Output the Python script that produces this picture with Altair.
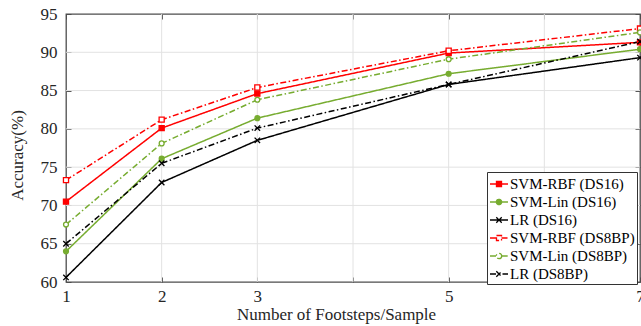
import altair as alt
import pandas as pd

# ---- data ----
steps = [1, 2, 3, 5, 7]
svm_rbf_ds16 = [70.5, 80.1, 84.6, 89.9, 91.3]
svm_lin_ds16 = [64.0, 76.1, 81.4, 87.2, 90.4]
lr_ds16 = [60.6, 73.0, 78.5, 85.8, 89.3]
svm_rbf_ds8bp = [73.3, 81.2, 85.4, 90.2, 93.1]
svm_lin_ds8bp = [67.5, 78.1, 83.8, 89.1, 92.6]
lr_ds8bp = [65.0, 75.5, 80.1, 85.8, 91.4]

series_names = ["SVM-RBF (DS16)", "SVM-Lin (DS16)", "LR (DS16)",
                "SVM-RBF (DS8BP)", "SVM-Lin (DS8BP)", "LR (DS8BP)"]
series_values = [svm_rbf_ds16, svm_lin_ds16, lr_ds16,
                 svm_rbf_ds8bp, svm_lin_ds8bp, lr_ds8bp]
series_markers = ["square", "circle", "x", "square", "circle", "x"]

x_ticks = [1, 2, 3, 4, 5, 6, 7]
y_ticks = [60, 65, 70, 75, 80, 85, 90, 95]

# ---- styles ----
RED, GREEN, BLACK = "#ff0000", "#77ac30", "#000000"
strokes = [RED, GREEN, BLACK, RED, GREEN, BLACK]
fills = [RED, GREEN, BLACK, "#ffffff", "#ffffff", "#ffffff"]
DASHDOT = [6, 2.5, 1.5, 2.5]
dashes = [[1, 0], [1, 0], [1, 0], DASHDOT, DASHDOT, DASHDOT]
X_PATH = "M-1,-1L1,1M-1,1L1,-1"
legend_paths = {
    "square": "M-1,0L-0.28,0M0.28,0L1,0M-0.28,-0.28L0.28,-0.28L0.28,0.28L-0.28,0.28Z",
    "circle": "M-1,0L-0.3,0M0.3,0L1,0M0.3,0A0.3,0.3 0 1,1 -0.3,0A0.3,0.3 0 1,1 0.3,0Z",
    "x": "M-1,0L1,0M-0.3,-0.3L0.3,0.3M-0.3,0.3L0.3,-0.3",
}
FONT = "Liberation Serif"
TXT = "#262626"
AX = "#4d4d4d"
GRID = "#e2e2e2"

rows = []
for name, vals, mk in zip(series_names, series_values, series_markers):
    for s, v in zip(steps, vals):
        rows.append({"steps": s, "acc": v, "series": name, "marker": mk})
df = pd.DataFrame(rows)

xs = alt.Scale(domain=[1, 7], nice=False, zero=False)
ys = alt.Scale(domain=[60, 95], nice=False, zero=False)
stroke_scale = alt.Scale(domain=series_names, range=strokes)
fill_scale = alt.Scale(domain=series_names, range=fills)
dash_scale = alt.Scale(domain=series_names, range=dashes)
shape_scale = alt.Scale(domain=series_names,
                        range=[legend_paths[m] for m in series_markers])

leg = alt.Legend(title=None, orient="none", legendX=421, legendY=158,
                 labelFont=FONT, labelFontSize=15, labelColor="#000000",
                 symbolSize=324, symbolStrokeWidth=1.3, labelOffset=1,
                 padding=2, rowPadding=0, strokeColor="#333333",
                 fillColor="#ffffff", cornerRadius=0)

# grid lines (interior only, so they do not cover the box)
vgrid = alt.Chart(pd.DataFrame({"v": x_ticks[1:-1]})).mark_rule(
    color=GRID, strokeWidth=1).encode(
    x=alt.X("v:Q", scale=xs,
            axis=alt.Axis(orient="top", offset=-5, tickSize=5, labels=False,
                          domain=False, grid=False, title=None, values=x_ticks,
                          tickColor=AX, tickWidth=1)))
hgrid = alt.Chart(pd.DataFrame({"v": y_ticks[1:-1]})).mark_rule(
    color=GRID, strokeWidth=1).encode(
    y=alt.Y("v:Q", scale=ys,
            axis=alt.Axis(orient="right", offset=-5, tickSize=5, labels=False,
                          domain=False, grid=False, title=None, values=y_ticks,
                          tickColor=AX, tickWidth=1)))

bottom_axis = alt.Axis(orient="bottom", offset=-5, tickSize=5, domain=False,
                       grid=False, values=x_ticks, labelFlush=False,
                       labelExpr="datum.value==4 || datum.value==6 ? '' : datum.label",
                       labelPadding=6, labelFontSize=17, labelBaseline="top",
                       title="Number of Footsteps/Sample", titleFontSize=17,
                       titleFontWeight="normal", titleBaseline="alphabetic",
                       titleX=270, titleY=42, tickColor=AX, tickWidth=1)
left_axis = alt.Axis(orient="left", offset=-5, tickSize=5, domain=False,
                     grid=False, values=y_ticks, labelPadding=9,
                     labelFontSize=17, title="Accuracy(%)", titleFontSize=17,
                     titleFontWeight="normal", titleAngle=270,
                     titleBaseline="alphabetic", titleX=-49, titleY=141,
                     tickColor=AX, tickWidth=1)

lines = alt.Chart(df).mark_line(strokeWidth=1.5).encode(
    x=alt.X("steps:Q", scale=xs, axis=bottom_axis),
    y=alt.Y("acc:Q", scale=ys, axis=left_axis),
    stroke=alt.Stroke("series:N", scale=stroke_scale, legend=leg),
    strokeDash=alt.StrokeDash("series:N", scale=dash_scale, legend=leg),
)

marker_shapes = {"square": ("square", 26), "circle": ("circle", 24), "x": (X_PATH, 30)}
point_layers = []
for mk, (shp, sz) in marker_shapes.items():
    point_layers.append(
        alt.Chart(df).transform_filter(alt.datum.marker == mk).mark_point(
            size=sz, strokeWidth=1.3, opacity=1, shape=shp).encode(
            x=alt.X("steps:Q", scale=xs, axis=None),
            y=alt.Y("acc:Q", scale=ys, axis=None),
            stroke=alt.Stroke("series:N", scale=stroke_scale, legend=leg),
            fill=alt.Fill("series:N", scale=fill_scale, legend=leg),
        )
    )

legend_layer = alt.Chart(df).transform_filter("false").mark_point(
    opacity=1, strokeWidth=1.3).encode(
    x=alt.X("steps:Q", scale=xs, axis=None),
    y=alt.Y("acc:Q", scale=ys, axis=None),
    stroke=alt.Stroke("series:N", scale=stroke_scale, legend=leg),
    fill=alt.Fill("series:N", scale=fill_scale, legend=leg),
    strokeDash=alt.StrokeDash("series:N", scale=dash_scale, legend=leg),
    shape=alt.Shape("series:N", scale=shape_scale, legend=leg),
)

chart = alt.layer(vgrid, hgrid, lines, *point_layers, legend_layer).resolve_axis(
    x="independent", y="independent"
).properties(
    width=574, height=268,
    padding={"left": 66, "top": 14, "right": 1, "bottom": 44},
    autosize=alt.AutoSizeParams(type="none"),
    background="#ffffff",
).configure_view(
    stroke=AX, strokeWidth=1.3
).configure_axis(
    labelFont=FONT, titleFont=FONT, labelColor=TXT, titleColor=TXT
)

chart.save("out.html", embed_options={"renderer": "svg", "actions": False})
